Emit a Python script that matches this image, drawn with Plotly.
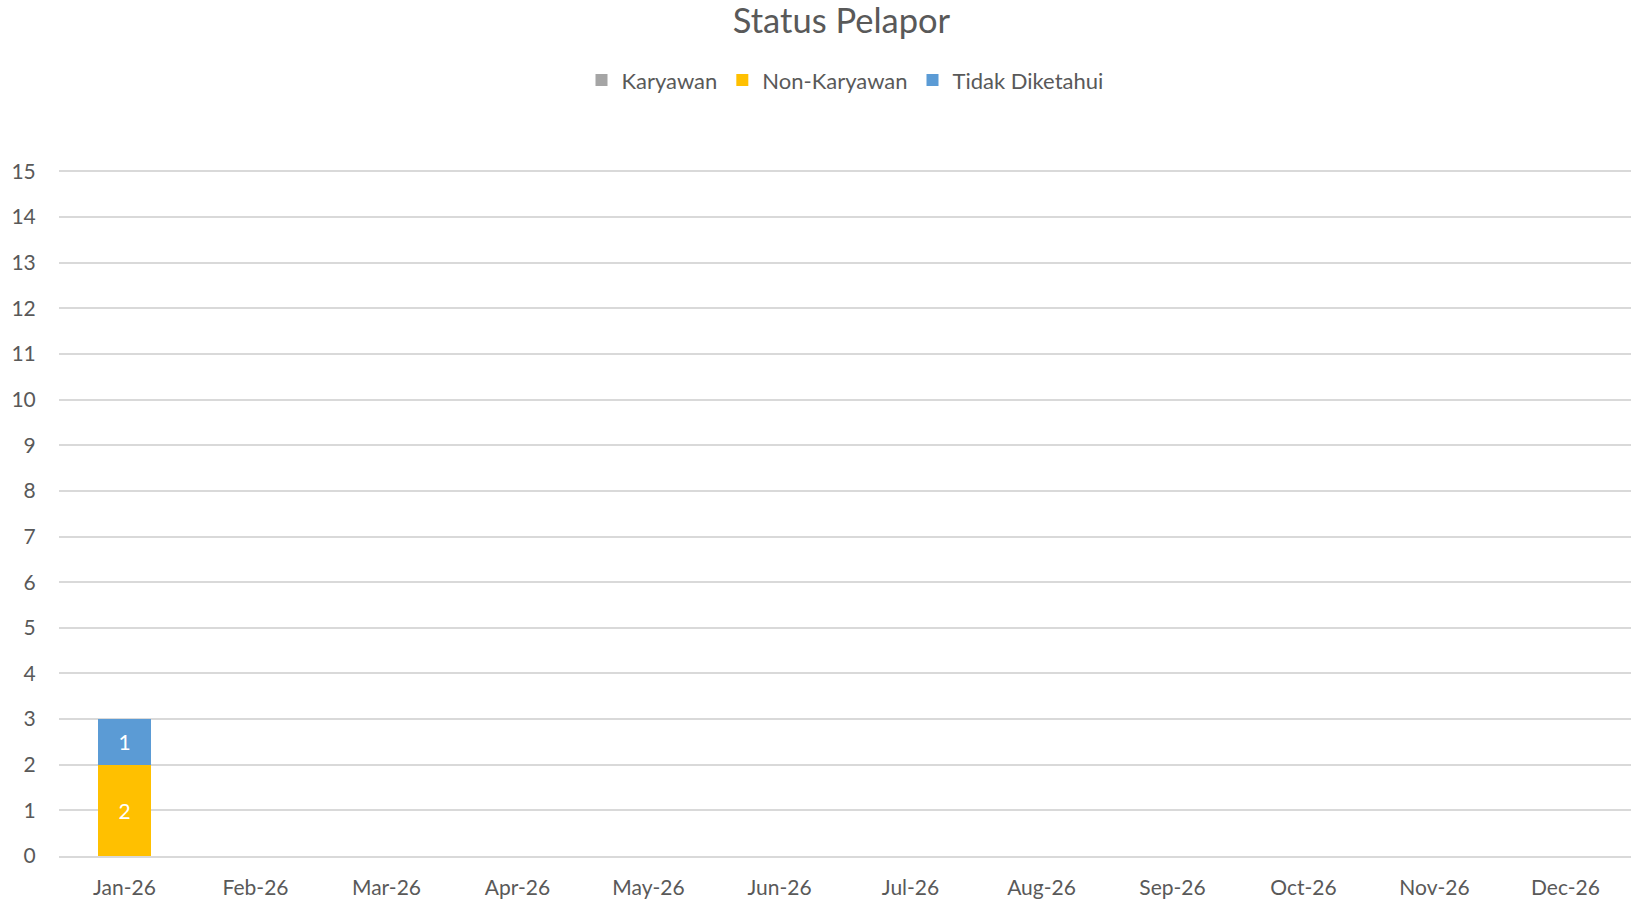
import plotly.graph_objects as go

months = ["Jan-26", "Feb-26", "Mar-26", "Apr-26", "May-26", "Jun-26",
          "Jul-26", "Aug-26", "Sep-26", "Oct-26", "Nov-26", "Dec-26"]
karyawan = [None] * 12
non_karyawan = [2] + [None] * 11
tidak_diketahui = [1] + [None] * 11
y_ticks = list(range(0, 16))

FONT = "Lato, 'Open Sans', sans-serif"
TXT = "#595959"

fig = go.Figure()
for name, vals, col in [("Karyawan", karyawan, "#A5A5A5"),
                        ("Non-Karyawan", non_karyawan, "#FFC000"),
                        ("Tidak Diketahui", tidak_diketahui, "#5B9BD5")]:
    fig.add_trace(go.Bar(
        x=months, y=vals, name=name, marker=dict(color=col, line=dict(width=0)),
        text=vals, texttemplate="%{y}", textposition="inside",
        insidetextanchor="middle",
        textfont=dict(color="white", size=21, family=FONT),
    ))

fig.update_layout(
    barmode="stack",
    bargap=0.6,
    width=1634, height=901,
    margin=dict(l=59, r=3, t=170, b=45),
    paper_bgcolor="white", plot_bgcolor="white",
    font=dict(family=FONT, color=TXT, size=20),
    title=dict(text="Status Pelapor", x=0.515, xanchor="center", y=0.977, yanchor="middle",
               font=dict(size=34.5, color=TXT, family=FONT)),
    legend=dict(orientation="h", x=0.5, xanchor="center", y=1.131, yanchor="middle",
                font=dict(size=22, color=TXT, family=FONT), traceorder="normal",
                itemwidth=30),
    showlegend=True,
    uniformtext=dict(minsize=10, mode="show"),
)
fig.update_yaxes(range=[0, 15.03], tickvals=y_ticks, showgrid=True, gridcolor="#D9D9D9",
                 gridwidth=2, zeroline=False, showline=False, automargin=False,
                 ticks="outside", ticklen=18, tickcolor="rgba(0,0,0,0)",
                 tickfont=dict(size=21, color=TXT, family=FONT))
fig.update_xaxes(showgrid=False, showline=True, linecolor="#D9D9D9", linewidth=2,
                 automargin=False,
                 ticks="outside", ticklen=12, tickcolor="rgba(0,0,0,0)",
                 tickfont=dict(size=21, color=TXT, family=FONT))

fig.write_html("out.html", config={"displayModeBar": False},
               post_script="document.body.style.margin='0';document.body.style.overflow='hidden';")
